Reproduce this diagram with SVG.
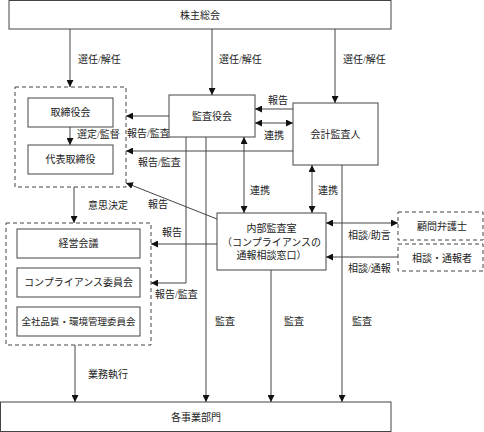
<svg xmlns="http://www.w3.org/2000/svg" width="484" height="432" viewBox="0 0 484 432">
<style>
text{font-family:"Liberation Serif","Noto Sans CJK JP",serif;font-size:10px;fill:#222}
.c{text-anchor:middle}
.box{fill:#fff;stroke:#444;stroke-width:1}
.dash{fill:none;stroke:#444;stroke-width:1;stroke-dasharray:4 3}
.dashw{fill:#fff;stroke:#444;stroke-width:1;stroke-dasharray:4 3}
.ln{fill:none;stroke:#444;stroke-width:1}
.a{marker-end:url(#ah)}
.aa{marker-end:url(#ah);marker-start:url(#ah)}
</style>
<defs>
<marker id="ah" viewBox="0 0 8 8" refX="8" refY="4" markerWidth="7" markerHeight="7" markerUnits="userSpaceOnUse" orient="auto-start-reverse">
<path d="M0,0 L8,4 L0,8 z" fill="#111"/>
</marker>
</defs>

<g id="connectors">
<line class="ln a" x1="70" y1="29" x2="70" y2="87"/>
<line class="ln a" x1="212" y1="29" x2="212" y2="95"/>
<line class="ln a" x1="335" y1="29" x2="335" y2="103"/>
<line class="ln a" x1="70" y1="127" x2="70" y2="145"/>
<line class="ln a" x1="169" y1="116" x2="126" y2="116"/>
<line class="ln a" x1="293" y1="151" x2="126" y2="151"/>
<line class="ln a" x1="293" y1="109" x2="255" y2="109"/>
<line class="ln aa" x1="255" y1="123" x2="293" y2="123"/>
<line class="ln aa" x1="244" y1="137" x2="244" y2="213"/>
<line class="ln aa" x1="312" y1="165" x2="312" y2="213"/>
<line class="ln a" x1="206" y1="137" x2="206" y2="402"/>
<polyline class="ln a" points="186,137 186,283 151,283"/>
<line class="ln a" x1="342" y1="165" x2="342" y2="402"/>
<line class="ln a" x1="271" y1="270" x2="271" y2="402"/>
<line class="ln a" x1="217" y1="219" x2="126" y2="183"/>
<line class="ln a" x1="217" y1="244" x2="151" y2="244"/>
<line class="ln a" x1="74" y1="187" x2="74" y2="223"/>
<line class="ln a" x1="75" y1="345" x2="75" y2="402"/>
<line class="ln aa" x1="326" y1="223" x2="398" y2="223"/>
<line class="ln a" x1="398" y1="257" x2="326" y2="257"/>
</g>

<g id="labels">
<text x="78" y="62.5">選任/解任</text>
<text x="219" y="62.5">選任/解任</text>
<text x="343" y="62.5">選任/解任</text>
<text x="77" y="137.5">選定/監督</text>
<text x="268" y="103.5">報告</text>
<text x="264" y="138.5">連携</text>
<text x="127" y="136.5">報告/監査</text>
<text x="138" y="165.5">報告/監査</text>
<text x="250" y="193.5">連携</text>
<text x="318" y="193.5">連携</text>
<text x="88" y="208.5">意思決定</text>
<text x="148" y="207.5">報告</text>
<text x="162" y="235.5">報告</text>
<text x="155" y="297.5">報告/監査</text>
<text x="215" y="324.5">監査</text>
<text x="284" y="324.5">監査</text>
<text x="352" y="324.5">監査</text>
<text x="348" y="238.5">相談/助言</text>
<text x="348" y="271.5">相談/通報</text>
<text x="88" y="377.5">業務執行</text>
</g>

<g id="shareholders">
<rect class="box" x="9" y="0.5" width="382" height="28.5"/>
<text class="c" x="200" y="18.5">株主総会</text>
</g>

<g id="board-group">
<rect class="dash" x="15" y="87" width="111" height="100"/>
</g>
<g id="board">
<rect class="box" x="28" y="98" width="85" height="29"/>
<text class="c" x="70.5" y="116">取締役会</text>
</g>
<g id="representative">
<rect class="box" x="28" y="145" width="85" height="29"/>
<text class="c" x="70.5" y="163">代表取締役</text>
</g>

<g id="auditors">
<rect class="box" x="169" y="95" width="86" height="42"/>
<text class="c" x="212" y="119.5">監査役会</text>
</g>

<g id="accounting-auditor">
<rect class="box" x="293" y="103" width="85" height="62"/>
<text class="c" x="335.5" y="137.5">会計監査人</text>
</g>

<g id="internal-audit">
<rect class="box" x="217" y="213" width="109" height="57"/>
<text class="c" x="271.5" y="231.5">内部監査室</text>
<text class="c" x="271.5" y="245.5">（コンプライアンスの</text>
<text class="c" x="271.5" y="258.5">通報相談窓口）</text>
</g>

<g id="committee-group">
<rect class="dash" x="6" y="223" width="145" height="122"/>
</g>
<g id="management-meeting">
<rect class="box" x="17" y="229" width="123" height="29"/>
<text class="c" x="78.5" y="247">経営会議</text>
</g>
<g id="compliance-committee">
<rect class="box" x="17" y="268" width="123" height="29"/>
<text class="c" x="78.5" y="286">コンプライアンス委員会</text>
</g>
<g id="quality-committee">
<rect class="box" x="17" y="307" width="123" height="29"/>
<text class="c" x="78.5" y="325" style="font-size:9.5px">全社品質・環境管理委員会</text>
</g>

<g id="lawyer">
<rect class="dashw" x="398" y="212" width="85" height="28"/>
<text class="c" x="442" y="229.5">顧問弁護士</text>
</g>
<g id="whistleblower">
<rect class="dashw" x="398" y="244" width="85" height="27"/>
<text class="c" x="442" y="261.5">相談・通報者</text>
</g>

<g id="business-units">
<rect class="box" x="0.5" y="402" width="390.5" height="29.5"/>
<text class="c" x="196" y="421">各事業部門</text>
</g>
</svg>
